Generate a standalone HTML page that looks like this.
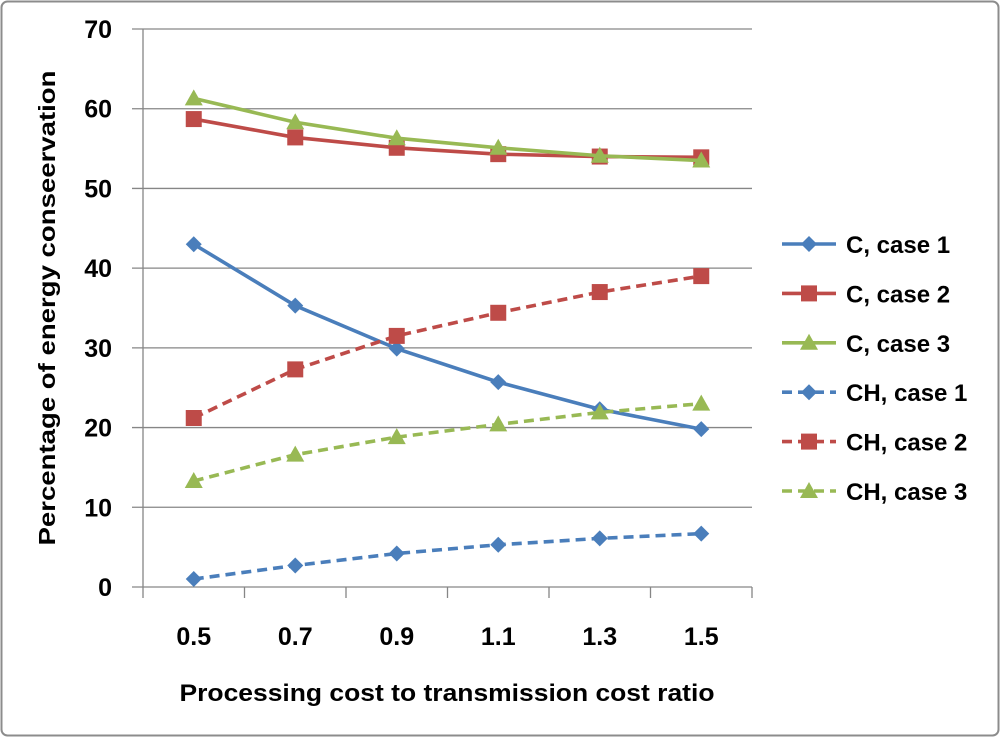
<!DOCTYPE html>
<html><head><meta charset="utf-8"><style>
body{margin:0;background:#fff;}
svg{display:block;font-family:"Liberation Sans",Arial,sans-serif;}
</style></head><body>
<svg id="chart" width="1000" height="737" viewBox="0 0 1000 737">
<rect x="1.5" y="1.5" width="997" height="734" rx="6" fill="#fff" stroke="#8c8c8c" stroke-width="2"/>
<g id="grid"></g><g id="axes"></g><g id="series"></g><g id="legend"></g>
<text x="447" y="701" text-anchor="middle" font-size="24" font-weight="bold" fill="#000" textLength="535" lengthAdjust="spacingAndGlyphs">Processing cost to transmission cost ratio</text>
<text transform="translate(55,308) rotate(-90)" text-anchor="middle" font-size="23" font-weight="bold" fill="#000" textLength="475" lengthAdjust="spacingAndGlyphs">Percentage of energy conseervation</text>
</svg>
<script>
const categories=["0.5","0.7","0.9","1.1","1.3","1.5"];
const yTicks=[0,10,20,30,40,50,60,70];
const seriesNames=["C, case 1","C, case 2","C, case 3","CH, case 1","CH, case 2","CH, case 3"];
const c1=[43,35.3,29.9,25.7,22.3,19.8];
const c2=[58.7,56.4,55.1,54.3,54.0,53.9];
const c3=[61.3,58.3,56.3,55.1,54.1,53.5];
const ch1=[1.0,2.7,4.2,5.3,6.1,6.7];
const ch2=[21.2,27.3,31.5,34.4,37.0,39.0];
const ch3=[13.3,16.6,18.8,20.4,21.9,23.0];
const NS="http://www.w3.org/2000/svg";
const L=143,R=752,T=29,B=587,yMax=70;
const bw=(R-L)/categories.length;
const x=i=>L+bw*(i+0.5);
const y=v=>B-(v/yMax)*(B-T);
function mk(tag,attrs,parent){const e=document.createElementNS(NS,tag);for(const k in attrs)e.setAttribute(k,attrs[k]);parent.appendChild(e);return e;}
const grid=document.getElementById('grid'),axes=document.getElementById('axes'),ser=document.getElementById('series'),leg=document.getElementById('legend');
yTicks.forEach(t=>{
  const g=mk('line',{x1:132,x2:R,y1:y(t),y2:y(t),stroke:'#868686','stroke-width':1.3},grid);
  
  
  const tx=mk('text',{x:112,y:y(t)+9,'text-anchor':'end','font-size':25,'font-weight':'bold'},axes);
  tx.textContent=t;
  
  
});
const ya=mk('line',{x1:L,x2:L,y1:T,y2:B,stroke:'#868686','stroke-width':1.3},axes);


for(let i=0;i<=categories.length;i++){
  const tk=mk('line',{x1:L+bw*i,x2:L+bw*i,y1:B,y2:B+11,stroke:'#868686','stroke-width':1.3},axes);
  
  
}
categories.forEach((c,i)=>{
  const tx=mk('text',{x:x(i),y:B+58,'text-anchor':'middle','font-size':25,'font-weight':'bold'},axes);
  tx.textContent=c;
  
  
});
const colors=['#4a7ebb','#be4b48','#98b954','#4a7ebb','#be4b48','#98b954'];
const shapes=['diamond','square','triangle','diamond','square','triangle'];
const data=[c1,c2,c3,ch1,ch2,ch3];
function marker(shape,cx,cy,col,parent){
  let e;
  if(shape==='diamond')e=mk('polygon',{points:`${cx},${cy-8} ${cx+8},${cy} ${cx},${cy+8} ${cx-8},${cy}`,fill:col},parent);
  else if(shape==='square')e=mk('rect',{x:cx-8,y:cy-8,width:16,height:16,fill:col},parent);
  else e=mk('polygon',{points:`${cx},${cy-9} ${cx+9},${cy+7} ${cx-9},${cy+7}`,fill:col},parent);
  return e;
}
data.forEach((d,s)=>{
  const g=mk('g',{},ser);
  
  
  const pl=mk('polyline',{points:d.map((v,i)=>x(i)+','+y(v)).join(' '),fill:'none',stroke:colors[s],'stroke-width':3.6,'stroke-dasharray':s>=3?'10 6':'none'},g);
  
  
  d.forEach((v,i)=>{const m=marker(shapes[s],x(i),y(v),colors[s],g);
    
    });
  const ly=244+s*49.4;
  const lg=mk('g',{},leg);
  
  
  mk('line',{x1:782,x2:836,y1:ly,y2:ly,stroke:colors[s],'stroke-width':3.6,'stroke-dasharray':s>=3?'10 6':'none'},lg);
  marker(shapes[s],809,ly,colors[s],lg);
  const t=mk('text',{x:846,y:ly+9,'font-size':24,'font-weight':'bold'},lg);
  t.textContent=seriesNames[s];
});
</script>
</body></html>
